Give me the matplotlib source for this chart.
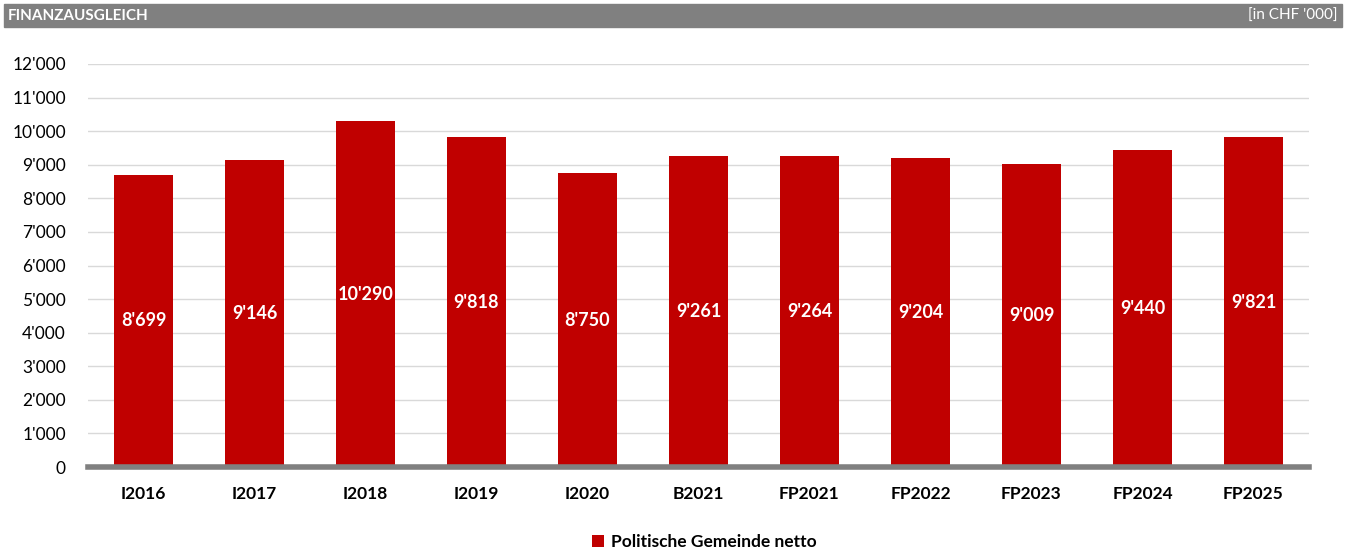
import matplotlib.pyplot as plt
from matplotlib.patches import Rectangle

plt.rcParams['font.family'] = ['Lato', 'DejaVu Sans']

jahre = ['I2016', 'I2017', 'I2018', 'I2019', 'I2020', 'B2021',
         'FP2021', 'FP2022', 'FP2023', 'FP2024', 'FP2025']
netto = [8699, 9146, 10290, 9818, 8750, 9261, 9264, 9204, 9009, 9440, 9821]
yticks = list(range(0, 12001, 1000))

def chf(v):
    return f"{v:,}".replace(",", "'")

rot = '#c00000'

fig = plt.figure(figsize=(13.46, 5.51), dpi=100)

# header bar
fig.patches.append(Rectangle((4 / 1346, 1 - 27 / 551), 1338 / 1346, 23 / 551,
                             transform=fig.transFigure, color='#808080', zorder=0))
fig.text(8 / 1346, 1 - 15.5 / 551, 'FINANZAUSGLEICH', color='white',
         fontsize=11, fontweight='bold', va='center', ha='left')
fig.text(1338 / 1346, 1 - 15.5 / 551, "[in CHF '000]", color='white',
         fontsize=11, va='center', ha='right')

ax = fig.add_axes([88 / 1346, 1 - 467 / 551, 1221 / 1346, 403 / 551])
x = range(len(jahre))
bars = ax.bar(x, netto, width=0.53, color=rot, zorder=2,
              label='Politische Gemeinde netto')

for b, v in zip(bars, netto):
    ax.text(b.get_x() + b.get_width() / 2, v / 2, chf(v), color='white',
            fontsize=13, fontweight='bold', ha='center', va='center', zorder=3)

ax.set_xlim(-0.5, len(jahre) - 0.5)
ax.set_ylim(0, 12000)
ax.set_yticks(yticks)
ax.set_yticklabels([chf(t) for t in yticks], fontsize=12.5)
ax.set_xticks(list(x))
ax.set_xticklabels(jahre, fontsize=12.5, fontweight='bold')
ax.tick_params(axis='both', length=0)
ax.tick_params(axis='x', pad=14)
ax.tick_params(axis='y', pad=16)
ax.grid(axis='y', color='#d9d9d9', linewidth=1, zorder=0)
for s in ['top', 'right', 'left']:
    ax.spines[s].set_visible(False)
ax.spines['bottom'].set_color('#808080')
ax.spines['bottom'].set_linewidth(4)
ax.spines['bottom'].set_zorder(4)

fig.legend(handles=[bars], labels=['Politische Gemeinde netto'],
           loc='center', bbox_to_anchor=(0.523, 1 - 542 / 551), frameon=False,
           prop={'size': 12.5, 'weight': 'bold'}, handlelength=0.7,
           handleheight=0.7, handletextpad=0.4)

fig.savefig('out.png', dpi=100)
